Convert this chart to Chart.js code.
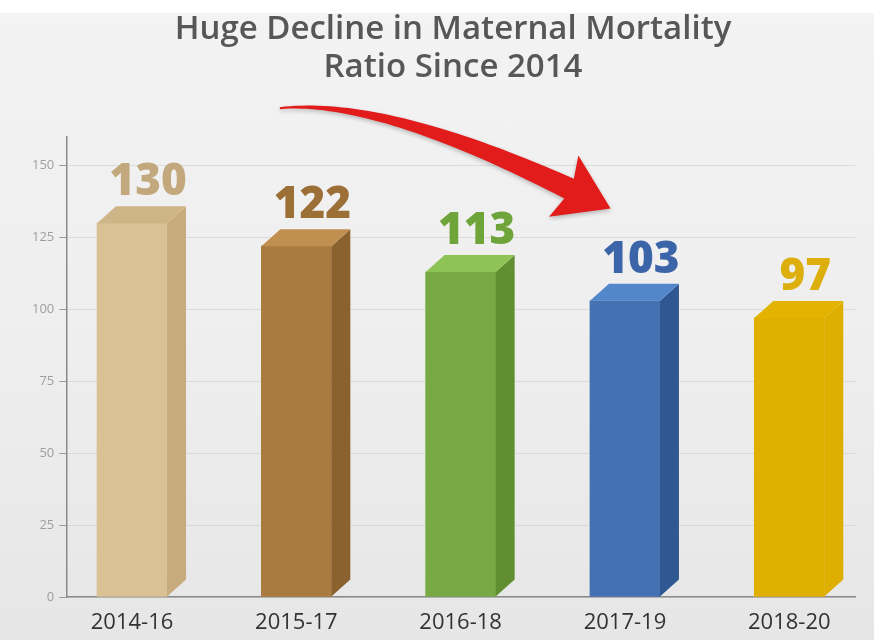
<!DOCTYPE html>
<html>
<head>
<meta charset="utf-8">
<script src="https://cdn.jsdelivr.net/npm/chart.js@4"></script>
<style>
  html, body { margin: 0; padding: 0; }
  body {
    width: 874px; height: 640px; overflow: hidden;
    background: linear-gradient(180deg, #fff 0, #fff 13px, #f3f3f3 13px, #eeeeee 55%, #e6e6e6 100%);
  }
  canvas { display: block; }
</style>
</head>
<body>
<canvas id="chart" width="874" height="640"></canvas>
<script>
const periods = ["2014-16", "2015-17", "2016-18", "2017-19", "2018-20"];
const mmr = [130, 122, 113, 103, 97];
const yStep = 25;

const frontColors = ["#d9c095", "#a97b41", "#77a944", "#4571b2", "#e0b000"];
const sideColors = ["#c8ab7d", "#8b6130", "#5f8f31", "#2f5893", "#deae00"];
const topColors = ["#cfb487", "#c18f4f", "#8ec456", "#5287cc", "#e3b300"];
const labelColors = ["#c2a87c", "#9c6f37", "#6fa43a", "#3c65a9", "#dcaf0d"];

const ctx = document.getElementById("chart");

//draw side + top faces and the value above each bar
const bar3d = {
  id: "bar3d",
  afterDatasetsDraw(chart) {
    const c = chart.ctx;
    const meta = chart.getDatasetMeta(0);
    const dx = 19, dy = 17;
    meta.data.forEach((bar, i) => {
      const { x, y, base, width } = bar.getProps(["x", "y", "base", "width"], true);
      const l = x - width / 2, r = x + width / 2;
      c.save();
      c.fillStyle = sideColors[i];
      c.beginPath();
      c.moveTo(r, y); c.lineTo(r + dx, y - dy); c.lineTo(r + dx, base - dy); c.lineTo(r, base);
      c.closePath(); c.fill();
      c.fillStyle = topColors[i];
      c.beginPath();
      c.moveTo(l, y); c.lineTo(l + dx, y - dy); c.lineTo(r + dx, y - dy); c.lineTo(r, y);
      c.closePath(); c.fill();
      c.fillStyle = labelColors[i];
      c.font = "800 44px 'Open Sans'";
      c.textAlign = "center";
      c.textBaseline = "alphabetic";
      c.fillText(String(mmr[i]), x + 16, y - 28);
      c.restore();
    });
  }
};

//red curved arrow, placed with the scales
const arrow = {
  id: "arrow",
  afterDatasetsDraw(chart) {
    const { x: xs, y: ys } = chart.scales;
    const c = chart.ctx;
    const p0 = { x: xs.getPixelForValue(0.9), y: ys.getPixelForValue(170) };
    const cp = { x: xs.getPixelForValue(1.51), y: ys.getPixelForValue(173.5) };
    const p2 = { x: xs.getPixelForValue(2.66), y: ys.getPixelForValue(142) };
    const upper = [], lower = [];
    let nEnd, dEnd;
    for (let k = 0; k <= 40; k++) {
      const t = k / 40;
      const px = (1 - t) * (1 - t) * p0.x + 2 * (1 - t) * t * cp.x + t * t * p2.x;
      const py = (1 - t) * (1 - t) * p0.y + 2 * (1 - t) * t * cp.y + t * t * p2.y;
      let tx = 2 * (1 - t) * (cp.x - p0.x) + 2 * t * (p2.x - cp.x);
      let ty = 2 * (1 - t) * (cp.y - p0.y) + 2 * t * (p2.y - cp.y);
      const len = Math.hypot(tx, ty);
      tx /= len; ty /= len;
      const nx = -ty, ny = tx;
      const w = 1 + 10 * Math.pow(t, 1.3);
      upper.push([px + nx * w, py + ny * w]);
      lower.push([px - nx * w, py - ny * w]);
      nEnd = [nx, ny]; dEnd = [tx, ty];
    }
    c.save();
    c.shadowColor = "rgba(0,0,0,0.25)";
    c.shadowBlur = 4;
    c.shadowOffsetY = 2;
    c.fillStyle = "#e21b1b";
    c.beginPath();
    upper.forEach(([a, b], k) => (k ? c.lineTo(a, b) : c.moveTo(a, b)));
    c.lineTo(p2.x + nEnd[0] * 34 - dEnd[0] * 6, p2.y + nEnd[1] * 34 - dEnd[1] * 6);
    c.lineTo(p2.x + dEnd[0] * 46, p2.y + dEnd[1] * 46);
    c.lineTo(p2.x - nEnd[0] * 34 - dEnd[0] * 6, p2.y - nEnd[1] * 34 - dEnd[1] * 6);
    for (let k = lower.length - 1; k >= 0; k--) c.lineTo(lower[k][0], lower[k][1]);
    c.closePath();
    c.fill();
    c.restore();
  }
};

//nudge the title so it sits where the original one does
const titleShift = {
  id: "titleShift",
  afterLayout(chart) {
    const t = chart.titleBlock;
    if (t) { t.left += 12; t.right += 12; }
  }
};

const myChart = new Chart(ctx, {
  type: "bar",
  data: {
    labels: periods,
    datasets: [
      {
        label: "Maternal Mortality Ratio",
        data: periods.map((p, i) => ({ x: i, y: mmr[i] })),
        backgroundColor: frontColors,
        borderWidth: 0,
        barThickness: 70,
      },
    ],
  },
  options: {
    responsive: false,
    animation: false,
    layout: { padding: { left: 27, right: 19, top: 0, bottom: 0 } },
    plugins: {
      legend: { display: false },
      tooltip: { enabled: false },
      title: {
        display: true,
        text: ["Huge Decline in Maternal Mortality", "Ratio Since 2014"],
        color: "#575757",
        font: { family: "'Open Sans'", size: 33, weight: "600", lineHeight: 1.15 },
        padding: { top: 11, bottom: 50 },
      },
    },
    scales: {
      x: {
        type: "linear",
        min: -0.4,
        max: 4.4,
        offset: false,
        grid: { display: false, drawTicks: false },
        border: { display: true, color: "#8a8a8a", width: 1.5 },
        afterBuildTicks: (s) => {
          s.ticks = periods.map((p, i) => ({ value: i }));
        },
        afterFit: (s) => {
          s.height = 43;
        },
        ticks: {
          color: "#333",
          font: { family: "'Open Sans'", size: 22 },
          padding: 13,
          maxRotation: 0,
          autoSkip: false,
          callback: (v) => periods[v] ?? "",
        },
      },
      y: {
        min: 0,
        max: 160,
        grid: { color: "rgba(195,195,195,0.45)", tickLength: 7, tickColor: "#999" },
        border: { color: "#8a8a8a", width: 1.5 },
        ticks: {
          stepSize: yStep,
          includeBounds: false,
          color: "#9e9e9e",
          font: { family: "'Open Sans'", size: 13 },
          padding: 5,
        },
      },
    },
  },
  plugins: [arrow, bar3d, titleShift],
});
</script>
</body>
</html>
